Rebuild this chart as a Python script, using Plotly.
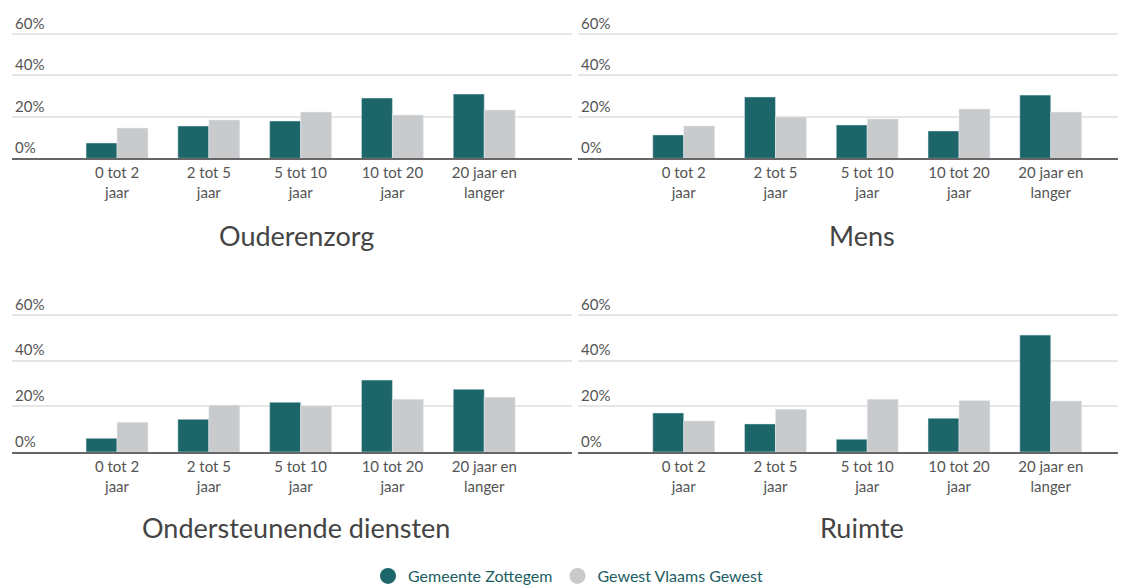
import plotly.graph_objects as go

categories = ["0 tot 2<br>jaar", "2 tot 5<br>jaar", "5 tot 10<br>jaar", "10 tot 20<br>jaar", "20 jaar en<br>langer"]
panels = ["Ouderenzorg", "Mens", "Ondersteunende diensten", "Ruimte"]
series_names = ["Gemeente Zottegem", "Gewest Vlaams Gewest"]

zottegem_ouderenzorg = [7.4, 15.6, 18.0, 29.1, 31.0]
vlaams_ouderenzorg = [14.6, 18.5, 22.3, 20.9, 23.3]
zottegem_mens = [11.3, 29.6, 16.1, 13.2, 30.5]
vlaams_mens = [15.6, 19.9, 19.0, 23.8, 22.3]
zottegem_ondersteunend = [6.0, 14.3, 21.8, 31.5, 27.5]
vlaams_ondersteunend = [13.0, 20.5, 20.1, 23.1, 24.0]
zottegem_ruimte = [17.1, 12.3, 5.6, 14.8, 51.2]
vlaams_ruimte = [13.6, 18.7, 23.1, 22.6, 22.3]

y_ticks = [0, 20, 40, 60]
y_tick_labels = ["0%", "20%", "40%", "60%"]

TEAL = "#1c6669"
GRAY = "#c9cacc"
OFF = 8                      # default body margin of the page
W, H = 1126 - OFF, 587 - OFF
Y_MAX = 60.8

data = [
    (zottegem_ouderenzorg, vlaams_ouderenzorg),
    (zottegem_mens, vlaams_mens),
    (zottegem_ondersteunend, vlaams_ondersteunend),
    (zottegem_ruimte, vlaams_ruimte),
]

def px(sx):
    return min(1.0, (sx - OFF) / W)

def py(sy):
    return 1 - (sy - OFF) / H

def ydom(base, g60):
    top = base - (base - g60) * Y_MAX / 60
    return (py(base), py(top))

x_doms = [(px(12), px(572)), (px(578), 1.0)]
x_ranges = [[-1.144, 4.956], [-1.152, 4.82]]
y_doms = [ydom(158.3, 34), ydom(452, 315)]
title_x = [px(296), px(862)]
title_y = [py(235), py(527)]

fig = go.Figure()
FONT = "Lato"

for i, (z, v) in enumerate(data):
    r, c = divmod(i, 2)
    ax = "" if i == 0 else str(i + 1)
    fig.add_trace(go.Bar(x=categories, y=z, name=series_names[0], marker_color=TEAL,
                         xaxis="x" + ax, yaxis="y" + ax, showlegend=False))
    fig.add_trace(go.Bar(x=categories, y=v, name=series_names[1], marker_color=GRAY,
                         xaxis="x" + ax, yaxis="y" + ax, showlegend=False))
    fig.layout["xaxis" + ax] = dict(
        domain=x_doms[c], anchor="y" + ax, type="category", automargin=False,
        range=x_ranges[c], showline=True, linecolor="#666666", linewidth=2,
        ticks="", showgrid=False, tickfont=dict(size=15, color="#555555", family=FONT),
        fixedrange=True,
    )
    fig.layout["yaxis" + ax] = dict(
        domain=y_doms[r], anchor="x" + ax, range=[0, Y_MAX], tickvals=y_ticks,
        ticktext=y_tick_labels, automargin=False,
        showgrid=True, gridcolor="#e6e6e6", gridwidth=2,
        zeroline=False, ticklabelposition="inside top", ticklabeloverflow="allow",
        tickfont=dict(size=15, color="#555555", family=FONT), fixedrange=True,
    )
    fig.add_annotation(text=panels[i], x=title_x[c], y=title_y[r],
                       xref="paper", yref="paper", showarrow=False, xanchor="center",
                       yanchor="middle", font=dict(size=27, color="#444444", family=FONT))

# legend entries as circles
for name, col in zip(series_names, [TEAL, GRAY]):
    fig.add_trace(go.Scatter(x=[None], y=[None], mode="markers", name=name,
                             marker=dict(symbol="circle", size=17, color=col)))

fig.update_layout(
    width=W, height=H, margin=dict(l=0, r=0, t=0, b=0, autoexpand=False),
    paper_bgcolor="white", plot_bgcolor="white",
    barmode="group", bargap=0.325, bargroupgap=0,
    showlegend=True,
    legend=dict(orientation="h", x=px(568), xanchor="center", y=-6 / H, yanchor="bottom",
                font=dict(size=16, color="#1c5e62", family=FONT), itemwidth=30,
                tracegroupgap=0),
    font=dict(family=FONT),
)

fig.write_html("out.html",
               post_script="document.documentElement.style.overflow='hidden';")
